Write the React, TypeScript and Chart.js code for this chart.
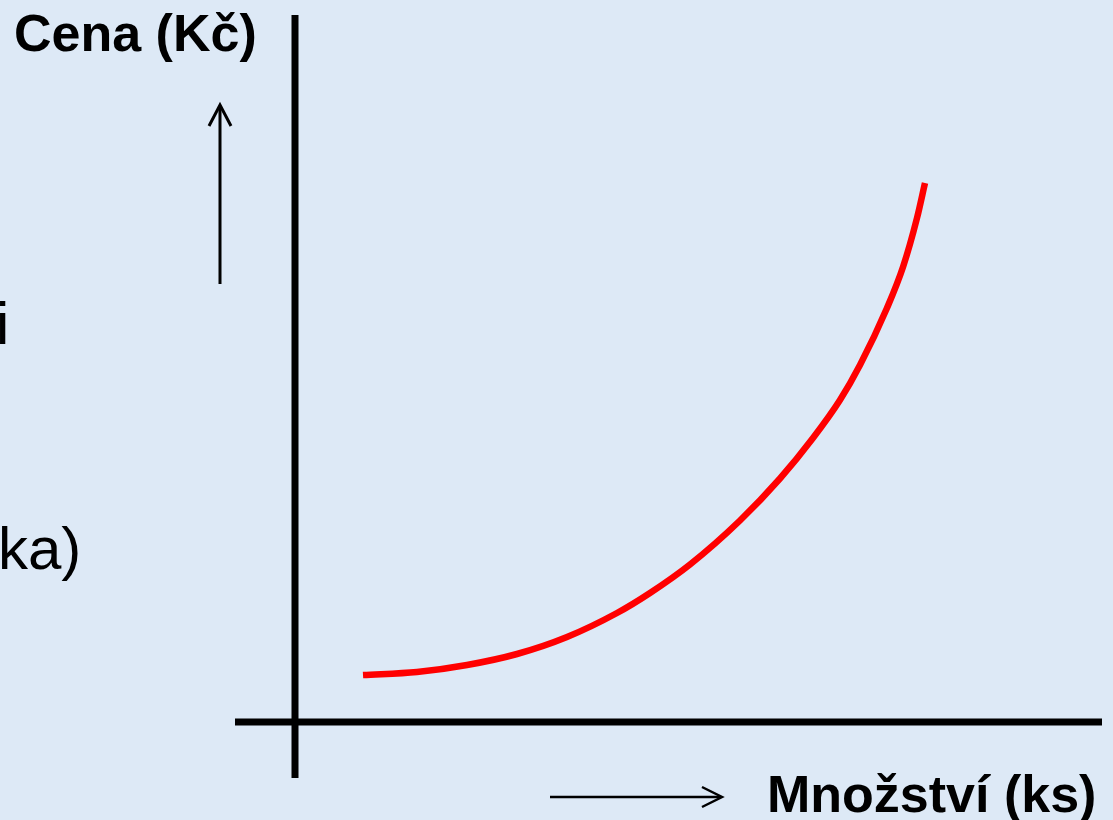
import React, { useEffect, useRef } from "react";
import { Chart, registerables } from "chart.js";

Chart.register(...registerables);

// Supply curve (Množství on x, Cena on y)
const quantity = [6.8, 12.2, 17.2, 22.2, 27.2, 32.2, 35.5, 39.5, 44.5, 48.5, 51.8, 54.5, 56.5, 59.2, 60.8, 62.2, 63.0];
const price = [4.7, 5.0, 5.7, 6.8, 8.5, 10.9, 12.9, 15.75, 20.15, 24.35, 28.4, 32.2, 35.7, 41.4, 45.5, 50.4, 53.9];

// Axis line extents (data units)
const xAxisExtent = [-6.0, 80.7];
const yAxisExtent = [-5.6, 70.7];

// Visible window of the scales
const xView = [-29.5, 81.8];
const yView = [-9.8, 72.2];

// Direction arrows
const upArrowX = -7.5;
const upArrowSpan = [43.8, 61.7];
const rightArrowY = -7.5;
const rightArrowSpan = [25.5, 42.7];

// Labels
const yTitle = "Cena (Kč)";
const xTitle = "Množství (ks)";
const leftFragments = ["i", "ka)"];

const W = 1113;
const H = 820;

export default function App() {
  const ref = useRef<HTMLCanvasElement | null>(null);

  useEffect(() => {
    if (!ref.current) return;
    const headBackY = 2.1;
    const headSideX = 1.1;
    const headBackX = 2.0;
    const headSideY = 1.0;
    const lineDs = (data: { x: number; y: number }[], color: string, width: number, extra: any = {}) => ({
      data,
      borderColor: color,
      backgroundColor: color,
      borderWidth: width,
      pointRadius: 0,
      pointHoverRadius: 0,
      fill: false,
      clip: false,
      borderCapStyle: "butt",
      borderJoinStyle: "miter",
      tension: 0,
      ...extra,
    });
    const chart = new Chart(ref.current, {
      type: "line",
      data: {
        datasets: [
          lineDs(
            quantity.map((q, i) => ({ x: q, y: price[i] })),
            "#ff0000",
            6.5,
            { cubicInterpolationMode: "monotone", borderJoinStyle: "round" }
          ),
          lineDs([{ x: 0, y: yAxisExtent[0] }, { x: 0, y: yAxisExtent[1] }], "#000000", 7),
          lineDs([{ x: xAxisExtent[0], y: 0 }, { x: xAxisExtent[1], y: 0 }], "#000000", 7),
          lineDs([{ x: upArrowX, y: upArrowSpan[0] }, { x: upArrowX, y: upArrowSpan[1] - 0.1 }], "#000000", 3),
          lineDs(
            [
              { x: upArrowX - headSideX, y: upArrowSpan[1] - headBackY },
              { x: upArrowX, y: upArrowSpan[1] },
              { x: upArrowX + headSideX, y: upArrowSpan[1] - headBackY },
            ],
            "#000000",
            3
          ),
          lineDs([{ x: rightArrowSpan[0], y: rightArrowY }, { x: rightArrowSpan[1] - 0.1, y: rightArrowY }], "#000000", 2.5),
          lineDs(
            [
              { x: rightArrowSpan[1] - headBackX, y: rightArrowY + headSideY },
              { x: rightArrowSpan[1], y: rightArrowY },
              { x: rightArrowSpan[1] - headBackX, y: rightArrowY - headSideY },
            ],
            "#000000",
            2.5
          ),
        ] as any,
      },
      options: {
        animation: false,
        responsive: false,
        devicePixelRatio: 1,
        layout: { padding: 0 },
        events: [],
        plugins: { legend: { display: false }, tooltip: { enabled: false }, title: { display: false } },
        scales: {
          x: { type: "linear", min: xView[0], max: xView[1], display: false },
          y: { type: "linear", min: yView[0], max: yView[1], display: false },
        },
      },
    });
    return () => chart.destroy();
  }, []);

  const font = '"Liberation Sans", Arial, sans-serif';
  const textBase: React.CSSProperties = {
    position: "absolute",
    fontFamily: font,
    color: "#000",
    lineHeight: 1,
    whiteSpace: "nowrap",
    margin: 0,
  };

  return (
    <div
      style={{
        position: "fixed",
        left: 0,
        top: 0,
        width: W,
        height: H,
        overflow: "hidden",
        background: "#dde9f6",
      }}
    >
      <canvas ref={ref} width={W} height={H} style={{ position: "absolute", left: 0, top: 0, display: "block" }} />
      <div style={{ ...textBase, left: 14, top: 7, fontSize: 52, fontWeight: 700 }}>{yTitle}</div>
      <div style={{ ...textBase, left: 767, top: 768, fontSize: 52, fontWeight: 700 }}>{xTitle}</div>
      <div style={{ ...textBase, left: -4, top: 294, fontSize: 60 }}>{leftFragments[0]}</div>
      <div style={{ ...textBase, left: -2, top: 519, fontSize: 60 }}>{leftFragments[1]}</div>
    </div>
  );
}
